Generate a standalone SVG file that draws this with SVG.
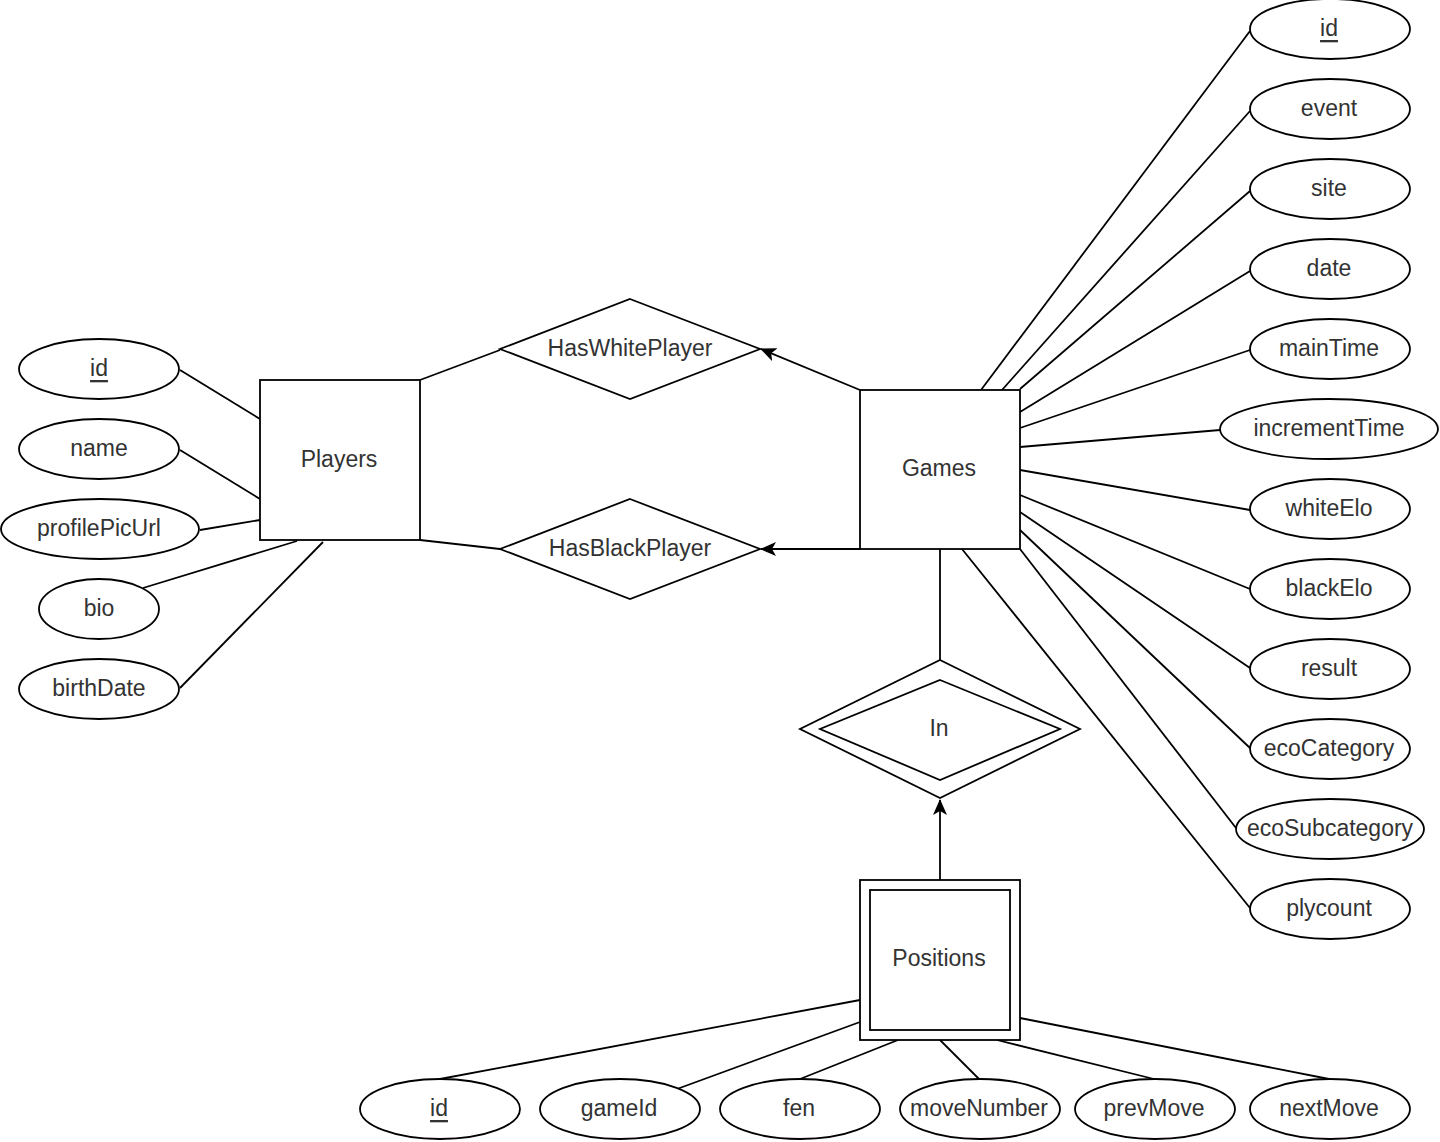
<svg xmlns="http://www.w3.org/2000/svg" width="1440" height="1142" viewBox="0 0 1440 1142">
<style>
.s{fill:#fff;stroke:#000;stroke-width:1.8}
.l{fill:none;stroke:#000;stroke-width:1.8}
text{font-family:"Liberation Sans",Arial,sans-serif;font-size:23px;fill:#333;text-anchor:middle;dominant-baseline:central}
.u{text-decoration:underline}
</style>
<defs>
<marker id="a" markerUnits="userSpaceOnUse" markerWidth="16" markerHeight="14" viewBox="0 0 16 14" refX="15" refY="7" orient="auto">
<path d="M0,0 L16,7 L0,14 L4,7 z" fill="#000"/>
</marker>
</defs>
<rect width="1440" height="1142" fill="#fff"/>
<g id="connectors">
<line class="l" x1="180" y1="370" x2="260" y2="419"/>
<line class="l" x1="180" y1="450" x2="260" y2="499"/>
<line class="l" x1="200" y1="530" x2="260" y2="520"/>
<line class="l" x1="143" y1="588" x2="297" y2="541"/>
<line class="l" x1="180" y1="688" x2="323" y2="542"/>
<line class="l" x1="420" y1="380" x2="500" y2="350"/>
<line class="l" x1="420" y1="540" x2="500" y2="549"/>
<line class="l" x1="860" y1="390" x2="761" y2="349" marker-end="url(#a)"/>
<line class="l" x1="860" y1="549" x2="761" y2="549" marker-end="url(#a)"/>
<line class="l" x1="940" y1="549" x2="940" y2="660"/>
<line class="l" x1="940" y1="880" x2="940" y2="800" marker-end="url(#a)"/>
<line class="l" x1="1250" y1="31" x2="981" y2="390"/>
<line class="l" x1="1250" y1="111" x2="1002" y2="390"/>
<line class="l" x1="1250" y1="191" x2="1020" y2="389"/>
<line class="l" x1="1250" y1="271" x2="1020" y2="412"/>
<line class="l" x1="1250" y1="350" x2="1020" y2="428"/>
<line class="l" x1="1220" y1="430" x2="1020" y2="447"/>
<line class="l" x1="1250" y1="510" x2="1020" y2="470"/>
<line class="l" x1="1250" y1="589" x2="1020" y2="495"/>
<line class="l" x1="1250" y1="668" x2="1020" y2="512"/>
<line class="l" x1="1250" y1="748" x2="1020" y2="530"/>
<line class="l" x1="1236" y1="828" x2="1020" y2="549"/>
<line class="l" x1="1250" y1="908" x2="962" y2="549"/>
<line class="l" x1="440" y1="1079" x2="860" y2="1000"/>
<line class="l" x1="677" y1="1089" x2="860" y2="1022"/>
<line class="l" x1="800" y1="1079" x2="898" y2="1040"/>
<line class="l" x1="979" y1="1079" x2="940" y2="1040"/>
<line class="l" x1="1154" y1="1079" x2="997" y2="1040"/>
<line class="l" x1="1329" y1="1079" x2="1020" y2="1018"/>
</g>
<g id="players"><rect class="s" x="260" y="380" width="160" height="160"/><text x="339" y="459">Players</text></g>
<g id="games"><rect class="s" x="860" y="390" width="160" height="159"/><text x="939" y="468">Games</text></g>
<g id="positions"><rect class="s" x="860" y="880" width="160" height="160"/><rect class="s" x="870" y="890" width="140" height="140"/><text x="939" y="958">Positions</text></g>
<g id="hasWhitePlayer"><polygon class="s" points="630,299 760,349 630,399 500,349"/><text x="630" y="348">HasWhitePlayer</text></g>
<g id="hasBlackPlayer"><polygon class="s" points="630,499 760,549 630,599 500,549"/><text x="630" y="548">HasBlackPlayer</text></g>
<g id="in"><polygon class="s" points="940,660 1080,729 940,798 800,729"/><polygon class="s" points="940,680 1060,729 940,780 820,729"/><text x="939" y="728">In</text></g>
<g id="p-id"><ellipse class="s" cx="99" cy="369" rx="80" ry="30"/><text class="u" x="99" y="368">id</text></g>
<g id="p-name"><ellipse class="s" cx="99" cy="449" rx="80" ry="30"/><text x="99" y="448">name</text></g>
<g id="p-profilePicUrl"><ellipse class="s" cx="100" cy="529" rx="99" ry="30"/><text x="99" y="528">profilePicUrl</text></g>
<g id="p-bio"><ellipse class="s" cx="99" cy="609" rx="60" ry="30"/><text x="99" y="608">bio</text></g>
<g id="p-birthDate"><ellipse class="s" cx="99" cy="689" rx="80" ry="30"/><text x="99" y="688">birthDate</text></g>
<g id="g-id"><ellipse class="s" cx="1330" cy="29" rx="80" ry="30"/><text class="u" x="1329" y="28">id</text></g>
<g id="g-event"><ellipse class="s" cx="1330" cy="109" rx="80" ry="30"/><text x="1329" y="108">event</text></g>
<g id="g-site"><ellipse class="s" cx="1330" cy="189" rx="80" ry="30"/><text x="1329" y="188">site</text></g>
<g id="g-date"><ellipse class="s" cx="1330" cy="269" rx="80" ry="30"/><text x="1329" y="268">date</text></g>
<g id="g-mainTime"><ellipse class="s" cx="1330" cy="349" rx="80" ry="30"/><text x="1329" y="348">mainTime</text></g>
<g id="g-incrementTime"><ellipse class="s" cx="1329" cy="429" rx="109" ry="30"/><text x="1329" y="428">incrementTime</text></g>
<g id="g-whiteElo"><ellipse class="s" cx="1330" cy="509" rx="80" ry="30"/><text x="1329" y="508">whiteElo</text></g>
<g id="g-blackElo"><ellipse class="s" cx="1330" cy="589" rx="80" ry="30"/><text x="1329" y="588">blackElo</text></g>
<g id="g-result"><ellipse class="s" cx="1330" cy="669" rx="80" ry="30"/><text x="1329" y="668">result</text></g>
<g id="g-ecoCategory"><ellipse class="s" cx="1330" cy="749" rx="80" ry="30"/><text x="1329" y="748">ecoCategory</text></g>
<g id="g-ecoSubcategory"><ellipse class="s" cx="1330" cy="829" rx="94" ry="30"/><text x="1330" y="828">ecoSubcategory</text></g>
<g id="g-plycount"><ellipse class="s" cx="1330" cy="909" rx="80" ry="30"/><text x="1329" y="908">plycount</text></g>
<g id="pos-id"><ellipse class="s" cx="440" cy="1109" rx="80" ry="30"/><text class="u" x="439" y="1108">id</text></g>
<g id="pos-gameId"><ellipse class="s" cx="620" cy="1109" rx="80" ry="30"/><text x="619" y="1108">gameId</text></g>
<g id="pos-fen"><ellipse class="s" cx="800" cy="1109" rx="80" ry="30"/><text x="799" y="1108">fen</text></g>
<g id="pos-moveNumber"><ellipse class="s" cx="980" cy="1109" rx="80" ry="30"/><text x="979" y="1108">moveNumber</text></g>
<g id="pos-prevMove"><ellipse class="s" cx="1155" cy="1109" rx="80" ry="30"/><text x="1154" y="1108">prevMove</text></g>
<g id="pos-nextMove"><ellipse class="s" cx="1330" cy="1109" rx="80" ry="30"/><text x="1329" y="1108">nextMove</text></g>
</svg>
